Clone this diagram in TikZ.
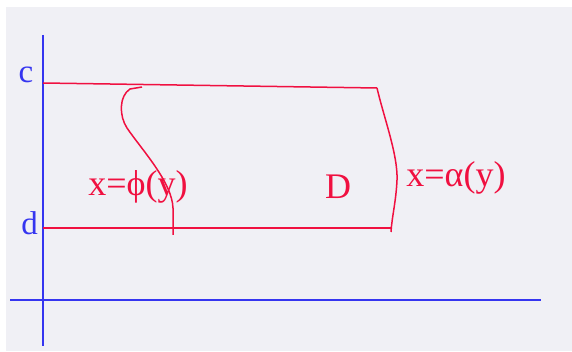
\documentclass[tikz,border=0pt]{standalone}
\usepackage{fontspec}
\setmainfont{Liberation Serif}
\usetikzlibrary{calc}
\definecolor{regred}{HTML}{F01040}
\definecolor{axisblue}{HTML}{3535F0}
\definecolor{regback}{HTML}{F0F0F5}
\begin{document}
\begin{tikzpicture}[x=1pt,y=-1pt,
    axisline/.style={axisblue,line width=1.8pt},
    regline/.style={regred,line width=1.5pt},
    reglabel/.style={text=regred,inner sep=0pt,font=\fontsize{36}{40}\selectfont},
    axislabel/.style={text=axisblue,inner sep=0pt,font=\fontsize{33}{36}\selectfont}]
  \useasboundingbox (0,0) rectangle (572,352);
  \fill[regback] (6,7) rectangle (572,351);
  % axes
  \coordinate (ytop) at (43,35);
  \coordinate (ybot) at (43,346);
  \coordinate (xleft) at (10,300);
  \coordinate (xright) at (541,300);
  \draw[axisline] (ytop) -- (ybot);
  \draw[axisline] (xleft) -- (xright);
  % corners of D
  \coordinate (cl) at (43,83);
  \coordinate (cr) at (377,88);
  \coordinate (dl) at (43,228);
  \coordinate (dr) at (391,228);
  \coordinate (phitop) at (142,87);
  \coordinate (phibot) at (173,235);
  \coordinate (alphabot) at (391,232);
  \draw[regline] (cl) -- (cr);
  \draw[regline] (dl) -- (dr);
  \draw[regline] (phitop) -- (130,89) .. controls (119,96) and (119,116) .. (127,128)
    .. controls (142,150) and (172,182) .. (173,208) -- (phibot);
  \draw[regline] (cr) .. controls (384,118) and (398,155) .. (397,180)
    .. controls (396,202) and (392,216) .. (alphabot);
  % labels
  \node[axislabel] (c) at (26,75) {c};
  \node[axislabel] (d) at (29.5,223) {d};
  \node[reglabel] (phi) at (138,187) {x=ϕ(y)};
  \node[reglabel] (D) at (338,187) {D};
  \node[reglabel] (alpha) at (456,178) {x=α(y)};
\end{tikzpicture}
\end{document}
